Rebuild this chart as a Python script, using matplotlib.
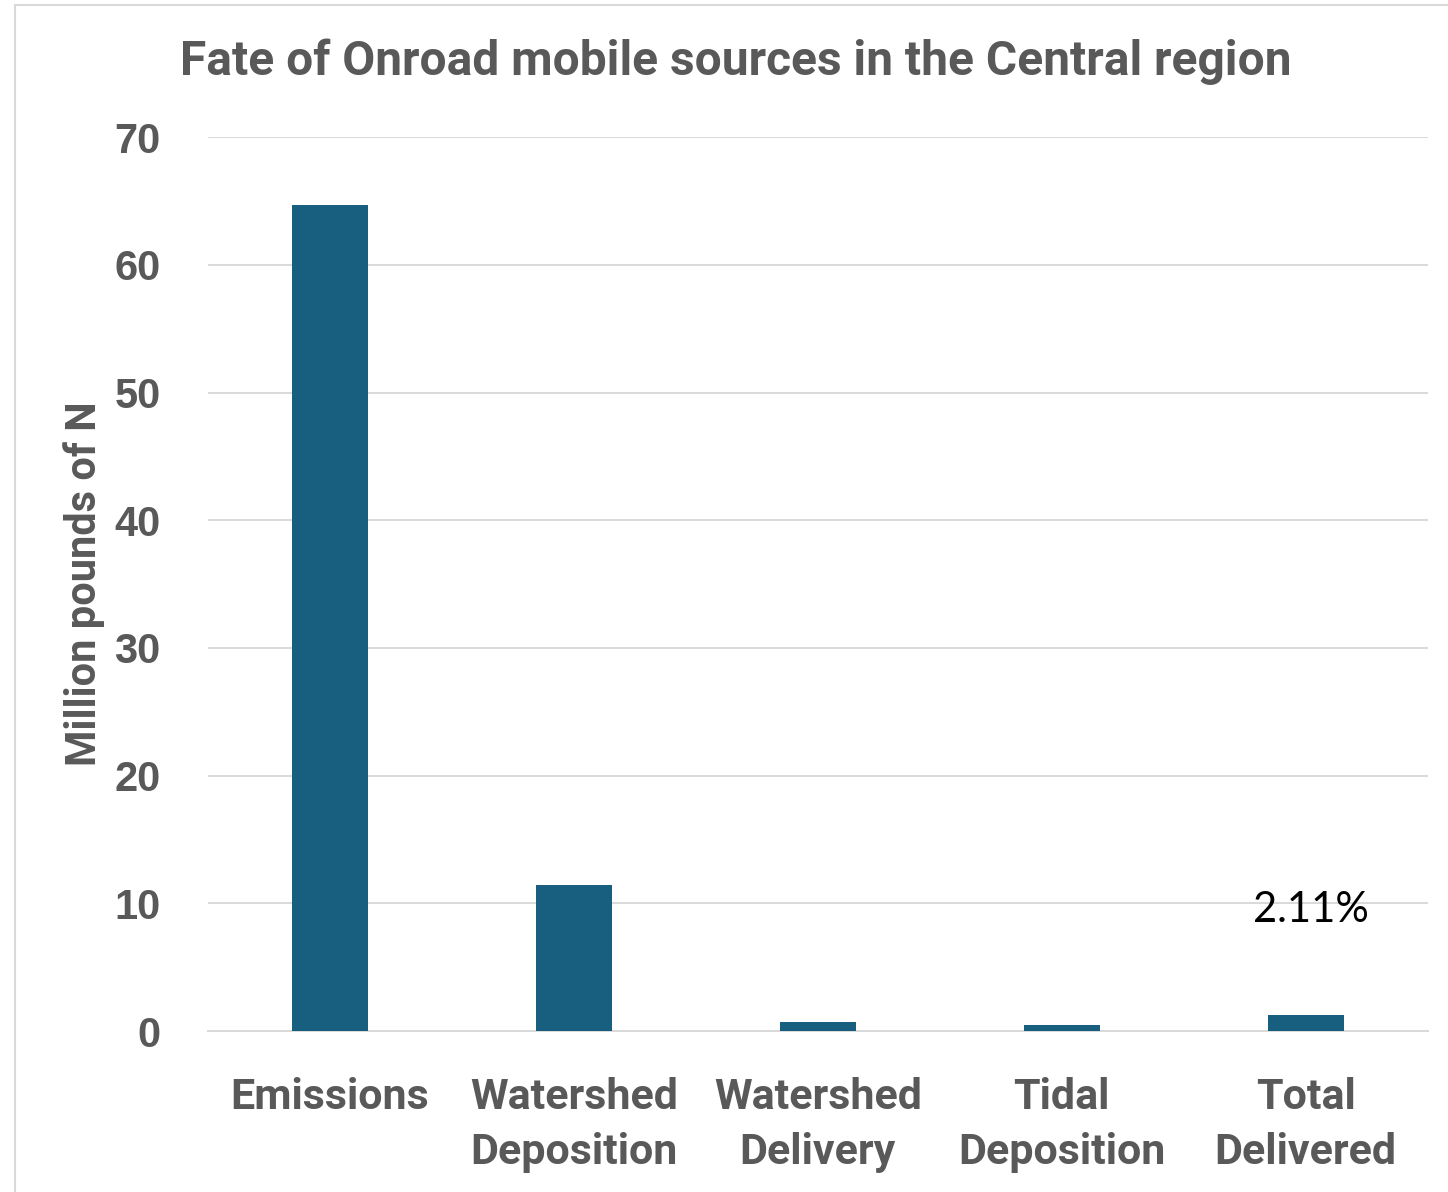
import matplotlib
matplotlib.use("Agg")
import matplotlib.pyplot as plt
from matplotlib.patches import Rectangle

categories = ["Emissions", "Watershed\nDeposition", "Watershed\nDelivery",
              "Tidal\nDeposition", "Total\nDelivered"]
values = [64.7, 11.4, 0.75, 0.5, 1.25]
yticks = [0, 10, 20, 30, 40, 50, 60, 70]
pct_label = "2.11%"

gray = "#595959"
bar_color = "#175E7F"
label_font = ["Roboto", "DejaVu Sans"]

fig = plt.figure(figsize=(14.48, 11.92), dpi=100)
ax = fig.add_axes([0.1436, 0.135, 0.8424, 0.75])

x = range(len(categories))
ax.bar(x, values, width=0.31, color=bar_color, zorder=3)

ax.set_xlim(-0.5, len(categories) - 0.5)
ax.set_ylim(0, 70)
ax.set_yticks(yticks)
ax.yaxis.grid(True, color="#d9d9d9", linewidth=1.4, zorder=0)
for s in ["top", "right", "left"]:
    ax.spines[s].set_visible(False)
ax.spines["bottom"].set_color("#d9d9d9")
ax.spines["bottom"].set_linewidth(1.4)
ax.tick_params(axis="both", length=0)
ax.tick_params(axis="y", pad=34)
ax.tick_params(axis="x", pad=33)

ax.set_yticklabels([str(t) for t in yticks], fontsize=30, fontweight="bold",
                   color=gray, family=["Liberation Sans", "DejaVu Sans"])
ax.set_xticks(list(x))
ax.set_xticklabels(categories, fontsize=31, fontweight="bold", color=gray,
                   family=label_font, linespacing=1.45)

ax.set_ylabel("Million pounds of N", fontsize=30, fontweight="bold",
              color=gray, family=label_font, labelpad=7)

# share of emissions that reaches the water
ax.text(4.02, 9.5, pct_label, ha="center", va="center", fontsize=30,
        color="black", family=["Lato", "DejaVu Sans"])

fig.text(0.508, 0.948, "Fate of Onroad mobile sources in the Central region",
         ha="center", va="center", fontsize=34.5, fontweight="bold",
         color=gray, family=label_font)

# thin frame around the chart area
fig.patches.append(Rectangle((15 / 1448, -0.01), 1.02, 1 - 5 / 1192 + 0.01,
                             transform=fig.transFigure, fill=False,
                             edgecolor="#d9d9d9", linewidth=1.5))

fig.savefig("out.png", dpi=100, facecolor="white")
